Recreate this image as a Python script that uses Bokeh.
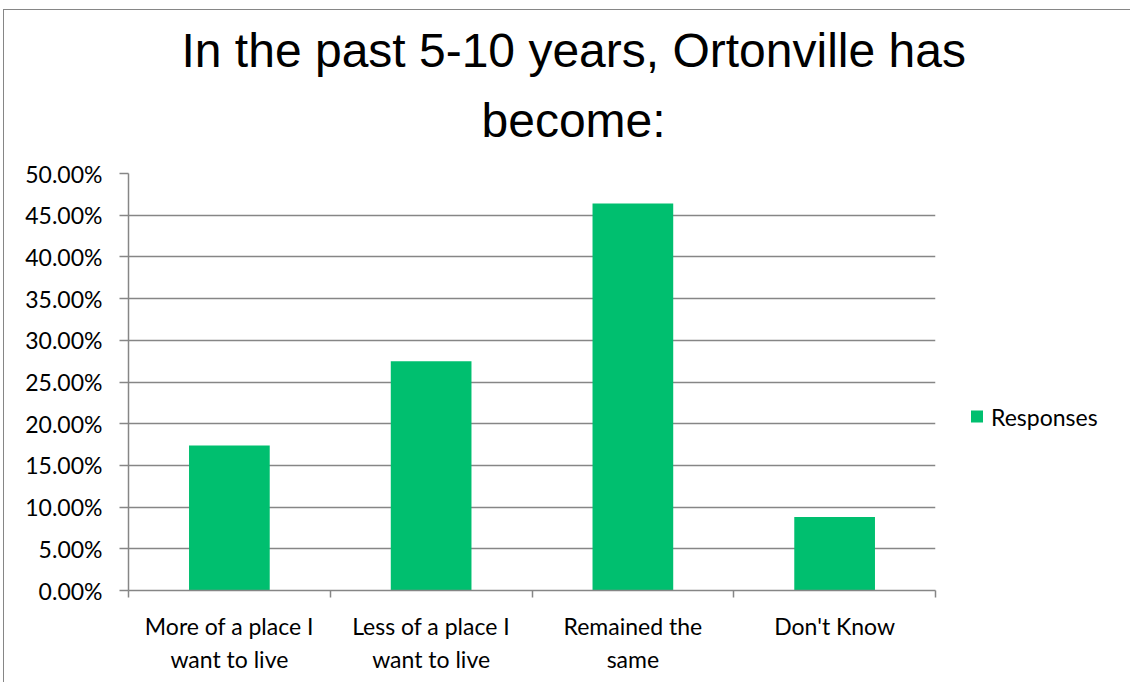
from bokeh.plotting import figure
from bokeh.models import (Range1d, FixedTicker, SingleIntervalTicker, NumeralTickFormatter,
                          Legend, LegendItem, Title, ColumnDataSource)
from bokeh.embed import file_html
from bokeh.resources import INLINE

title_lines = ["In the past 5-10 years, Ortonville has", "become:"]
categories = ["More of a place I\nwant to live", "Less of a place I\nwant to live",
              "Remained the\nsame", "Don't Know"]
responses = [0.174, 0.275, 0.464, 0.088]
series_name = "Responses"

BAR = "#00BF6F"
GRID = "#868686"
FONT = "Lato"

n = len(categories)
centers = [i + 0.5 for i in range(n)]
bounds = [float(i) for i in range(n + 1)]

src = ColumnDataSource(dict(x=centers, top=responses))

p = figure(frame_width=807, frame_height=417, output_backend="svg", toolbar_location=None,
           x_range=Range1d(0, n), y_range=Range1d(0, 0.5),
           min_border_left=124, min_border_right=0, min_border_top=163, min_border_bottom=92)
p.outline_line_color = None
p.background_fill_color = "white"
p.border_fill_color = "white"

r = p.vbar(x="x", top="top", width=0.4, source=src, fill_color=BAR, line_color=None)

# y axis
p.yaxis.ticker = SingleIntervalTicker(interval=0.05, num_minor_ticks=0)
p.yaxis.formatter = NumeralTickFormatter(format="0.00%")
p.yaxis.axis_line_color = GRID
p.yaxis.axis_line_width = 1.5
p.yaxis.major_tick_line_color = GRID
p.yaxis.major_tick_line_width = 1.5
p.yaxis.major_tick_out = 9
p.yaxis.major_tick_in = 0
p.yaxis.minor_tick_line_color = None
p.yaxis.major_label_text_font = FONT
p.yaxis.major_label_text_font_size = "23px"
p.yaxis.major_label_text_color = "black"
p.yaxis.major_label_standoff = 17

# x axis: labels at category centres, tick marks at category boundaries
p.xaxis.ticker = FixedTicker(ticks=centers, minor_ticks=bounds)
p.xaxis.major_label_overrides = {c: lab for c, lab in zip(centers, categories)}
p.xaxis.axis_line_color = GRID
p.xaxis.axis_line_width = 1.5
p.xaxis.major_tick_line_color = None
p.xaxis.minor_tick_line_color = GRID
p.xaxis.minor_tick_line_width = 1.5
p.xaxis.minor_tick_out = 7
p.xaxis.minor_tick_in = 0
p.xaxis.major_label_text_font = FONT
p.xaxis.major_label_text_font_size = "23px"
p.xaxis.major_label_text_color = "black"
p.xaxis.major_label_text_line_height = 1.2
p.xaxis.major_label_standoff = 14

p.xgrid.grid_line_color = None
p.ygrid.grid_line_color = GRID
p.ygrid.grid_line_width = 1.5

# legend in the right panel; a blank title spacer pushes the entry down a little
legend = Legend(items=[LegendItem(label=series_name, renderers=[r])],
                location="center_left", orientation="vertical",
                glyph_width=15, glyph_height=15, label_standoff=7,
                padding=0, margin=34, border_line_color=None,
                background_fill_alpha=0,
                title=" ", title_text_font_size="10px", title_standoff=58,
                label_text_font=FONT, label_text_font_size="23px", label_text_color="black")
p.add_layout(legend, "right")

# two-line title, both lines centred on the chart area
t2 = Title(text=title_lines[1], align="left", offset=353, standoff=53,
           text_font="Liberation Sans", text_font_size="48px", text_font_style="normal",
           text_color="black")
t1 = Title(text=title_lines[0], align="left", offset=53, standoff=-23,
           text_font="Liberation Sans", text_font_size="48px", text_font_style="normal",
           text_color="black")
p.add_layout(t2, "above")
p.add_layout(t1, "above")

p.styles = {"border-left": "1px solid #868686", "border-top": "1px solid #868686",
            "margin-left": "3px", "margin-top": "9px"}

open("out.html", "w").write(file_html(p, INLINE))
